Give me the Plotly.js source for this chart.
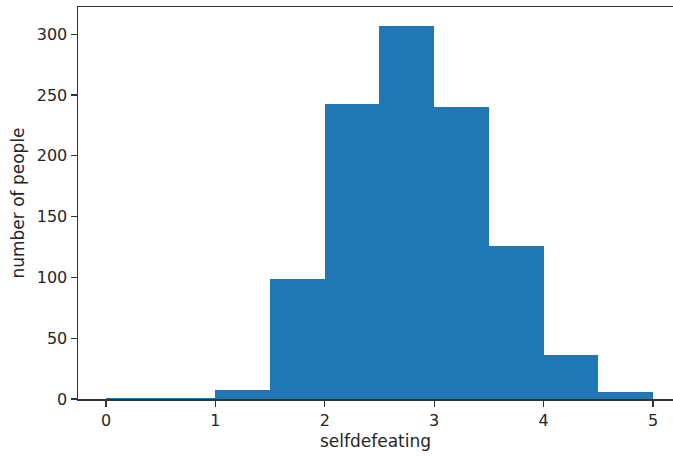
<!DOCTYPE html>
<html>
<head>
<meta charset="utf-8">
<script src="https://cdn.plot.ly/plotly-3.0.1.min.js"></script>
<style>html,body{margin:0;padding:0;background:#fff;}#chart{width:673px;height:457px;}</style>
</head>
<body>
<div id="chart"></div>
<script>
// Histogram bins of "selfdefeating" (bin width 0.5)
const binLeftEdges = [0, 0.5, 1, 1.5, 2, 2.5, 3, 3.5, 4, 4.5];
const binWidth = 0.5;
const counts = [1, 1, 7, 99, 243, 307, 240, 126, 36, 6];
const xTicks = [0, 1, 2, 3, 4, 5];
const yTicks = [0, 50, 100, 150, 200, 250, 300];
const xLabel = "selfdefeating";
const yLabel = "number of people";

const centers = binLeftEdges.map(e => e + binWidth / 2);
const font = "DejaVu Sans, sans-serif";

Plotly.newPlot("chart", [{
  type: "bar",
  x: centers,
  y: counts,
  width: binLeftEdges.map(() => binWidth),
  marker: {color: "#1f77b4", line: {width: 0}},
  hoverinfo: "x+y"
}], {
  width: 673, height: 457,
  margin: {l: 78, r: 0, t: 7, b: 58},
  paper_bgcolor: "#fff", plot_bgcolor: "#fff",
  showlegend: false,
  bargap: 0,
  font: {family: font, color: "#262626", size: 16},
  xaxis: {
    range: [-0.256, 5.183],
    tickvals: xTicks, ticktext: xTicks.map(String),
    ticks: "outside", ticklen: 6, tickwidth: 1.2, tickcolor: "#333",
    showline: true, linecolor: "#333", linewidth: 1.5, mirror: true,
    showgrid: false, zeroline: false,
    tickfont: {size: 16},
    title: {text: xLabel, font: {size: 17}, standoff: 6}
  },
  yaxis: {
    range: [0, 322.35],
    tickvals: yTicks, ticktext: yTicks.map(String),
    ticks: "outside", ticklen: 6, tickwidth: 1.2, tickcolor: "#333",
    showline: true, linecolor: "#333", linewidth: 1.5, mirror: false,
    showgrid: false, zeroline: false,
    tickfont: {size: 16},
    title: {text: yLabel, font: {size: 17}, standoff: 8}
  }
}, {displayModeBar: false, staticPlot: true});
</script>
</body>
</html>
